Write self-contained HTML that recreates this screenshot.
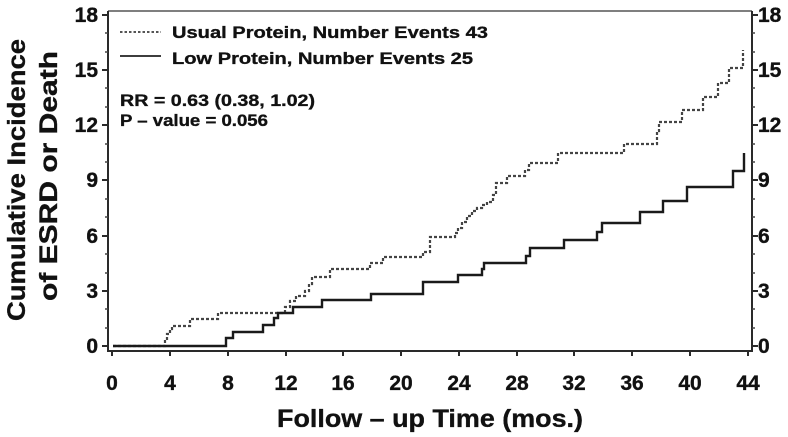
<!DOCTYPE html>
<html><head><meta charset="utf-8"><style>
html,body{margin:0;padding:0;background:#fff;}
svg{display:block;}
text{font-family:"Liberation Sans",Arial,sans-serif;font-weight:bold;fill:#111;stroke:#111;stroke-width:0.35;}
</style></head><body>
<svg width="788" height="437" viewBox="0 0 788 437" xmlns="http://www.w3.org/2000/svg">
<rect width="788" height="437" fill="#fff"/>
<!-- frame -->
<g stroke="#2a2a2a" stroke-width="2" fill="none">
<line x1="108" y1="11" x2="752" y2="11" stroke="#555" stroke-width="1.6"/>
<line x1="108" y1="11" x2="108" y2="352"/>
<line x1="752" y1="11" x2="752" y2="352"/>
<line x1="107" y1="351" x2="753" y2="351"/>
</g>
<!-- y major ticks -->
<g stroke="#2a2a2a" stroke-width="2">
<line x1="102" y1="346" x2="108" y2="346"/><line x1="102" y1="291" x2="108" y2="291"/>
<line x1="102" y1="236" x2="108" y2="236"/><line x1="102" y1="180" x2="108" y2="180"/>
<line x1="102" y1="125" x2="108" y2="125"/><line x1="102" y1="70" x2="108" y2="70"/>
<line x1="102" y1="15" x2="108" y2="15"/>
<line x1="752" y1="346" x2="758" y2="346"/><line x1="752" y1="291" x2="758" y2="291"/>
<line x1="752" y1="236" x2="758" y2="236"/><line x1="752" y1="180" x2="758" y2="180"/>
<line x1="752" y1="125" x2="758" y2="125"/><line x1="752" y1="70" x2="758" y2="70"/>
<line x1="752" y1="15" x2="758" y2="15"/>
</g>
<!-- y minor ticks -->
<g stroke="#444" stroke-width="1.5">
<line x1="105" y1="328" x2="108" y2="328"/><line x1="105" y1="309" x2="108" y2="309"/>
<line x1="105" y1="273" x2="108" y2="273"/><line x1="105" y1="254" x2="108" y2="254"/>
<line x1="105" y1="217" x2="108" y2="217"/><line x1="105" y1="199" x2="108" y2="199"/>
<line x1="105" y1="162" x2="108" y2="162"/><line x1="105" y1="144" x2="108" y2="144"/>
<line x1="105" y1="107" x2="108" y2="107"/><line x1="105" y1="88" x2="108" y2="88"/>
<line x1="105" y1="52" x2="108" y2="52"/><line x1="105" y1="33" x2="108" y2="33"/>
<line x1="752" y1="328" x2="755" y2="328"/><line x1="752" y1="309" x2="755" y2="309"/>
<line x1="752" y1="273" x2="755" y2="273"/><line x1="752" y1="254" x2="755" y2="254"/>
<line x1="752" y1="217" x2="755" y2="217"/><line x1="752" y1="199" x2="755" y2="199"/>
<line x1="752" y1="162" x2="755" y2="162"/><line x1="752" y1="144" x2="755" y2="144"/>
<line x1="752" y1="107" x2="755" y2="107"/><line x1="752" y1="88" x2="755" y2="88"/>
<line x1="752" y1="52" x2="755" y2="52"/><line x1="752" y1="33" x2="755" y2="33"/>
</g>
<!-- x ticks -->
<g stroke="#2a2a2a" stroke-width="2">
<line x1="112" y1="351" x2="112" y2="356"/><line x1="170" y1="351" x2="170" y2="356"/>
<line x1="228" y1="351" x2="228" y2="356"/><line x1="286" y1="351" x2="286" y2="356"/>
<line x1="343" y1="351" x2="343" y2="356"/><line x1="401" y1="351" x2="401" y2="356"/>
<line x1="459" y1="351" x2="459" y2="356"/><line x1="517" y1="351" x2="517" y2="356"/>
<line x1="574" y1="351" x2="574" y2="356"/><line x1="632" y1="351" x2="632" y2="356"/>
<line x1="690" y1="351" x2="690" y2="356"/><line x1="748" y1="351" x2="748" y2="356"/>
</g>
<!-- y labels left -->
<g font-size="21" text-anchor="end">
<text x="98" y="353">0</text><text x="98" y="298">3</text><text x="98" y="243">6</text>
<text x="98" y="187">9</text><text x="98" y="132">12</text><text x="98" y="77">15</text>
<text x="98" y="22">18</text>
</g>
<!-- y labels right -->
<g font-size="21" text-anchor="start">
<text x="758" y="353">0</text><text x="758" y="298">3</text><text x="758" y="243">6</text>
<text x="758" y="187">9</text><text x="758" y="132">12</text><text x="758" y="77">15</text>
<text x="758" y="22">18</text>
</g>
<!-- x labels -->
<g font-size="21" text-anchor="middle">
<text x="112" y="390">0</text><text x="170" y="390">4</text><text x="228" y="390">8</text>
<text x="286" y="390">12</text><text x="343" y="390">16</text><text x="401" y="390">20</text>
<text x="459" y="390">24</text><text x="517" y="390">28</text><text x="574" y="390">32</text>
<text x="632" y="390">36</text><text x="690" y="390">40</text><text x="748" y="390">44</text>
</g>
<!-- axis titles -->
<text x="277" y="427" font-size="25" textLength="306" lengthAdjust="spacingAndGlyphs">Follow – up  Time  (mos.)</text>
<text transform="translate(25,180) rotate(-90)" font-size="25" text-anchor="middle" textLength="282" lengthAdjust="spacingAndGlyphs">Cumulative  Incidence</text>
<text transform="translate(57,176) rotate(-90)" font-size="25" text-anchor="middle" textLength="250" lengthAdjust="spacingAndGlyphs">of  ESRD  or  Death</text>
<!-- legend -->
<line x1="120" y1="32" x2="161" y2="32" stroke="#555" stroke-width="2" stroke-dasharray="2.5 2"/>
<line x1="120" y1="56" x2="161" y2="56" stroke="#222" stroke-width="1.8"/>
<text x="172" y="38" font-size="17" textLength="316" lengthAdjust="spacingAndGlyphs">Usual  Protein,  Number  Events  43</text>
<text x="172" y="64" font-size="17" textLength="301" lengthAdjust="spacingAndGlyphs">Low  Protein,  Number  Events  25</text>
<text x="120" y="106" font-size="17" textLength="195" lengthAdjust="spacingAndGlyphs">RR = 0.63  (0.38,  1.02)</text>
<text x="120" y="126" font-size="17" textLength="148" lengthAdjust="spacingAndGlyphs">P – value = 0.056</text>
<!-- usual protein (dotted) -->
<path fill="none" stroke="#444" stroke-width="2.2" stroke-dasharray="3 2"
d="M113 346 H165 V340 H167 V334 H170 V329 H172 V326 H190 V319 H218 V313 H285 V307 H290 V301 H296 V296 H305 V291 H309 V284 H312 V277 H330 V269 H370 V263 H383 V257 H423 V252 H430 V237 H455 V233 H458 V228 H462 V222 H467 V216 H472 V211 H477 V208 H482 V205 H487 V202 H493 V195 H496 V183 H507 V176 H525 V170 H529 V163 H558 V153 H624 V144 H657 V131 H659 V122 H682 V110 H703 V97 H718 V83 H729 V68 H743 V50"/>
<!-- low protein (solid) -->
<path fill="none" stroke="#1a1a1a" stroke-width="2.4"
d="M113 346 H226 V338 H233 V332 H263 V325 H274 V318 H278 V313 H293 V307 H322 V300 H371 V294 H423 V282 H458 V275 H482 V269 H484 V263 H526 V256 H530 V248 H564 V240 H597 V232 H602 V223 H640 V212 H663 V201 H687 V187 H733 V171 H744 V153"/>
</svg>
</body></html>
